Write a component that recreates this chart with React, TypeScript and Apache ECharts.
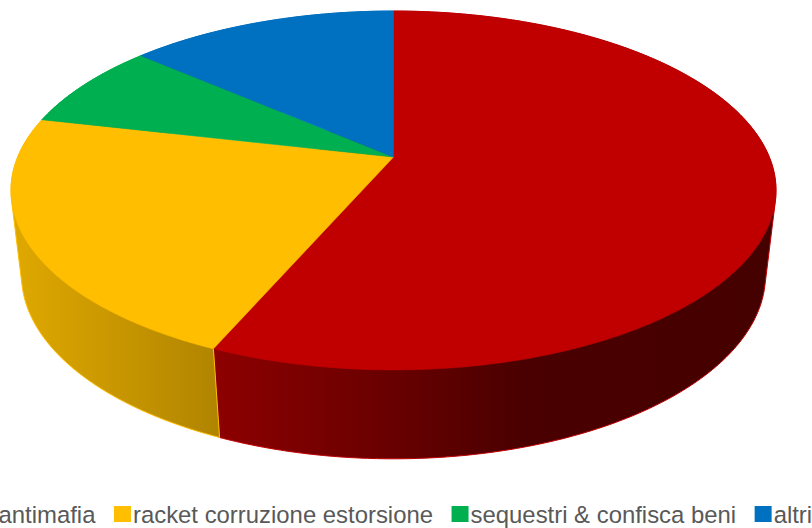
import React, { useEffect, useRef } from "react";
import * as echarts from "echarts";

const categories = ["antimafia", "racket corruzione estorsione", "sequestri & confisca beni", "altri"];
const values = [56.5, 22.1, 7.8, 13.6];
const colors = ["#C00000", "#FFBE00", "#00B050", "#0070C0"];
const sideStops = [
  [[0, "#8C0000"], [0.35, "#640000"], [0.55, "#4A0000"], [1, "#450000"]],
  [[0, "#E0A900"], [1, "#B08400"]],
  [[0, "#007A38"], [1, "#007A38"]],
  [[0, "#004E86"], [1, "#004E86"]],
];
const total = values.reduce((a, b) => a + b, 0);

// perspective projection of a disc lying flat, for the top and the bottom rim
const topDisc = { cx: 393.5, cy: 157, a: 173.2, b: 0.1866, c: 375.8 };
const bottomDisc = { cx: 393.5, cy: 242, a: 178, b: 0.179, c: 366 };
type Disc = typeof topDisc;

function project(d: Disc, theta: number): number[] {
  const X = Math.sin(theta);
  const Z = -Math.cos(theta);
  const w = 1 - d.b * Z;
  return [d.cx + (d.c * X) / w, d.cy + (d.a * Z) / w];
}

function sliceRange(i: number): [number, number] {
  let before = 0;
  for (let k = 0; k < i; k++) before += values[k];
  const s = (before / total) * Math.PI * 2;
  return [s, s + (values[i] / total) * Math.PI * 2];
}

function rim(d: Disc, s: number, e: number): number[][] {
  const n = Math.max(2, Math.ceil((e - s) / 0.01));
  const pts: number[][] = [];
  for (let j = 0; j <= n; j++) pts.push(project(d, s + ((e - s) * j) / n));
  return pts;
}

// the wall of a slice is the convex hull of its two rims; the top face hides the inner part
function hull(points: number[][]): number[][] {
  const p = [...points].sort((a, b) => a[0] - b[0] || a[1] - b[1]);
  const cross = (o: number[], a: number[], b: number[]) =>
    (a[0] - o[0]) * (b[1] - o[1]) - (a[1] - o[1]) * (b[0] - o[0]);
  const build = (list: number[][]) => {
    const out: number[][] = [];
    for (const q of list) {
      while (out.length >= 2 && cross(out[out.length - 2], out[out.length - 1], q) <= 0) out.pop();
      out.push(q);
    }
    out.pop();
    return out;
  };
  return [...build(p), ...build([...p].reverse())];
}

export default function App() {
  const ref = useRef<HTMLDivElement>(null);
  useEffect(() => {
    const chart = echarts.init(ref.current!, null, { renderer: "svg" });
    const topSeries = categories.map((name, i) => ({
      type: "custom",
      name,
      coordinateSystem: "none",
      z: 3,
      silent: true,
      itemStyle: { color: colors[i] },
      data: [[values[i]]],
      renderItem: () => {
        const [s, e] = sliceRange(i);
        return {
          type: "polygon",
          shape: { points: [[topDisc.cx, topDisc.cy], ...rim(topDisc, s, e)] },
          style: { fill: colors[i], stroke: colors[i], lineWidth: 0.6 },
        };
      },
    }));
    const sideSeries = {
      type: "custom",
      name: "side",
      coordinateSystem: "none",
      z: 2,
      silent: true,
      data: values.map((v) => [v]),
      renderItem: (params: any) => {
        const i = params.dataIndex;
        const [s, e] = sliceRange(i);
        const pts = hull([...rim(topDisc, s, e), ...rim(bottomDisc, s, e)]);
        const xs = pts.map((p) => p[0]);
        const lo = i === 0 ? 218 : Math.min(...xs);
        const hi = i === 0 ? 772 : i === 1 ? 220 : Math.max(...xs);
        return {
          type: "polygon",
          shape: { points: pts },
          style: {
            fill: {
              type: "linear",
              global: true,
              x: lo,
              y: 0,
              x2: hi,
              y2: 0,
              colorStops: sideStops[i].map((st) => ({ offset: st[0], color: st[1] })),
            },
            stroke: colors[i],
            lineWidth: 1,
          },
        };
      },
    };
    chart.setOption({
      animation: false,
      backgroundColor: "#FFFFFF",
      legend: {
        data: categories.map((name, i) => ({ name, itemStyle: { color: colors[i] } })),
        left: -20.5,
        top: 502,
        width: 1200,
        padding: 0,
        icon: "rect",
        itemWidth: 17,
        itemHeight: 16,
        itemGap: 18.5,
        selectedMode: false,
        textStyle: {
          fontFamily: "Liberation Sans",
          fontSize: 23.9,
          color: "#595959",
          padding: [0, 0, 0, -3],
        },
      },
      series: [sideSeries, ...topSeries],
    });
    return () => chart.dispose();
  }, []);
  return (
    <div
      ref={ref}
      style={{ position: "absolute", left: 0, top: 0, width: 812, height: 528, overflow: "hidden" }}
    />
  );
}
